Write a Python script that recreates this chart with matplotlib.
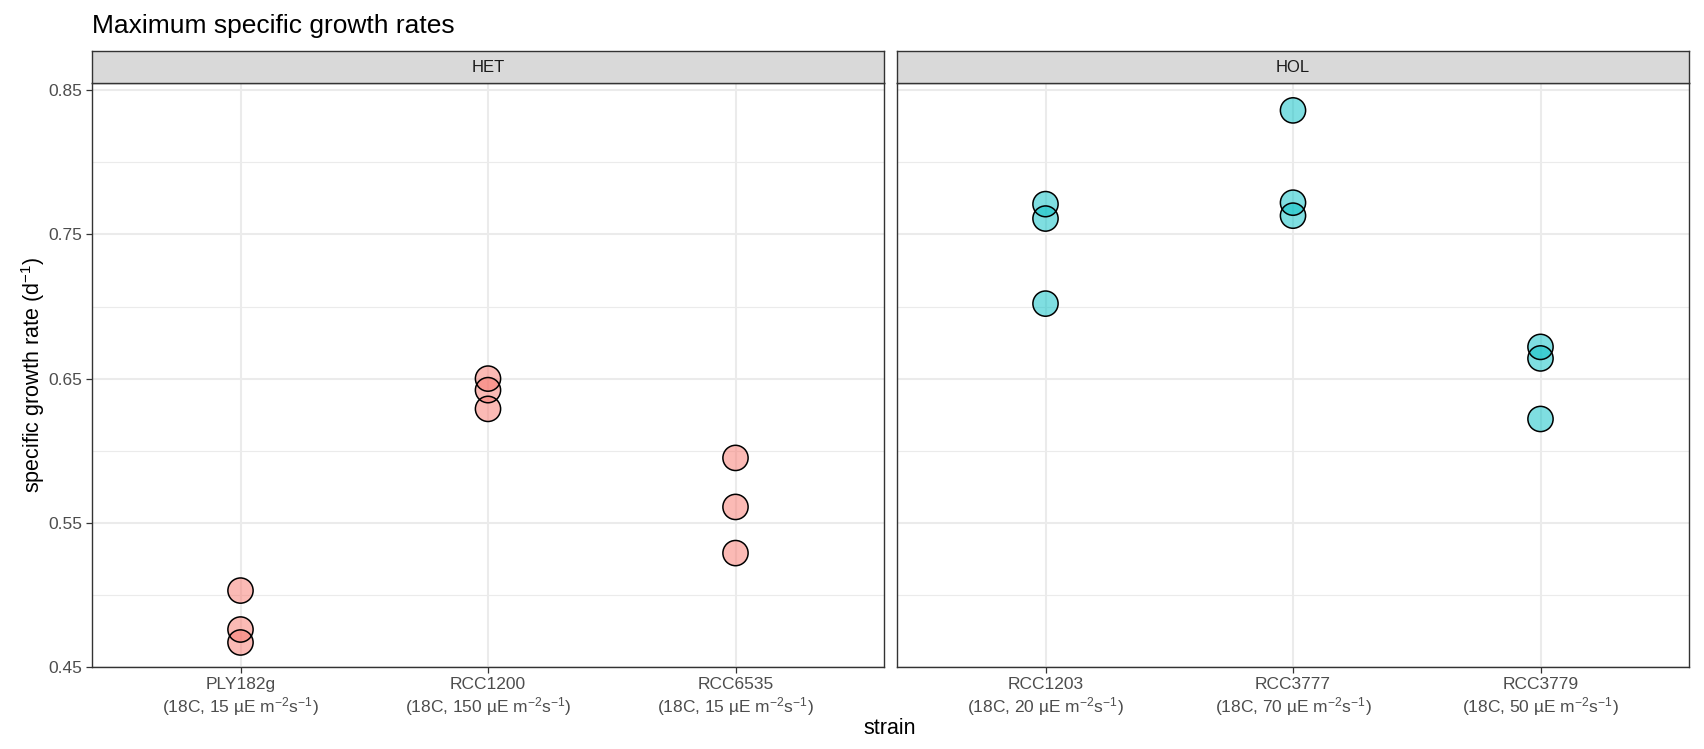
import matplotlib
matplotlib.use('Agg')
import matplotlib.pyplot as plt

plt.rcParams['font.family'] = ['Liberation Sans', 'DejaVu Sans']
plt.rcParams['mathtext.fontset'] = 'custom'
plt.rcParams['mathtext.rm'] = 'Liberation Sans'
plt.rcParams['mathtext.it'] = 'Liberation Sans:italic'
plt.rcParams['mathtext.default'] = 'regular'

# Data
panels     = ['HET', 'HOL']
het_strain = ['PLY182g', 'RCC1200', 'RCC6535']
het_light  = ['15', '150', '15']
het_rates  = [[0.503, 0.476, 0.467],
              [0.650, 0.642, 0.629],
              [0.595, 0.561, 0.529]]
hol_strain = ['RCC1203', 'RCC3777', 'RCC3779']
hol_light  = ['20', '70', '50']
hol_rates  = [[0.771, 0.761, 0.702],
              [0.836, 0.772, 0.763],
              [0.672, 0.664, 0.622]]
fills = ['#F8766D', '#00BFC4']

W, H = 1704, 749
fig = plt.figure(figsize=(W / 100, H / 100), dpi=100)

left_px  = [92, 897]
panel_w  = 792
bottom   = 1 - 667 / H
top      = 1 - 83 / H
strip_h  = 32 / H

grid_col = '#EBEBEB'
dark     = '#333333'

for i, (name, strains, light, rates) in enumerate(zip(
        panels, [het_strain, hol_strain], [het_light, hol_light],
        [het_rates, hol_rates])):
    ax = fig.add_axes([left_px[i] / W, bottom, panel_w / W, top - bottom])
    ax.set_xlim(0.4, 3.6)
    ax.set_ylim(0.45, 0.855)
    ax.set_yticks([0.45, 0.55, 0.65, 0.75, 0.85])
    ax.set_yticks([0.50, 0.60, 0.70, 0.80], minor=True)
    ax.set_xticks([1, 2, 3])
    labels = [f'{s}\n(18C, {l} µE m$^{{-2}}$s$^{{-1}}$)' for s, l in zip(strains, light)]
    ax.set_xticklabels(labels)
    ax.grid(True, which='major', color=grid_col, lw=1.5)
    ax.grid(True, which='minor', axis='y', color=grid_col, lw=0.8)
    ax.set_axisbelow(True)
    for sp in ax.spines.values():
        sp.set_color(dark)
        sp.set_linewidth(1.0)
    ax.tick_params(axis='both', which='major', length=4, width=0.9, color=dark,
                   labelcolor='#4D4D4D', labelsize=12.5, pad=3)
    ax.tick_params(axis='y', which='minor', length=0)
    if i == 1:
        ax.tick_params(axis='y', labelleft=False, length=0)
    for k, vals in enumerate(rates):
        ax.scatter([k + 1] * len(vals), vals, s=330, color=fills[i], alpha=0.5,
                   edgecolors='none', zorder=3)
        ax.scatter([k + 1] * len(vals), vals, s=330, facecolors='none',
                   edgecolors='black', linewidths=1.1, zorder=4)

    sax = fig.add_axes([left_px[i] / W, top, panel_w / W, strip_h])
    sax.set_facecolor('#D9D9D9')
    sax.set_xticks([])
    sax.set_yticks([])
    for sp in sax.spines.values():
        sp.set_color(dark)
        sp.set_linewidth(1.0)
    sax.text(0.5, 0.5, name, ha='center', va='center', fontsize=12,
             color='#1A1A1A', transform=sax.transAxes)

fig.text(92 / W, 1 - 33 / H, 'Maximum specific growth rates', fontsize=19,
         ha='left', va='baseline', color='black')
fig.text(33 / W, (bottom + top) / 2, 'specific growth rate (d$^{-1}$)', fontsize=15.5,
         rotation=90, ha='center', va='center')
fig.text(890 / W, 1 - 728 / H, 'strain', fontsize=15.5, ha='center', va='center')

fig.savefig('out.png', dpi=100)
